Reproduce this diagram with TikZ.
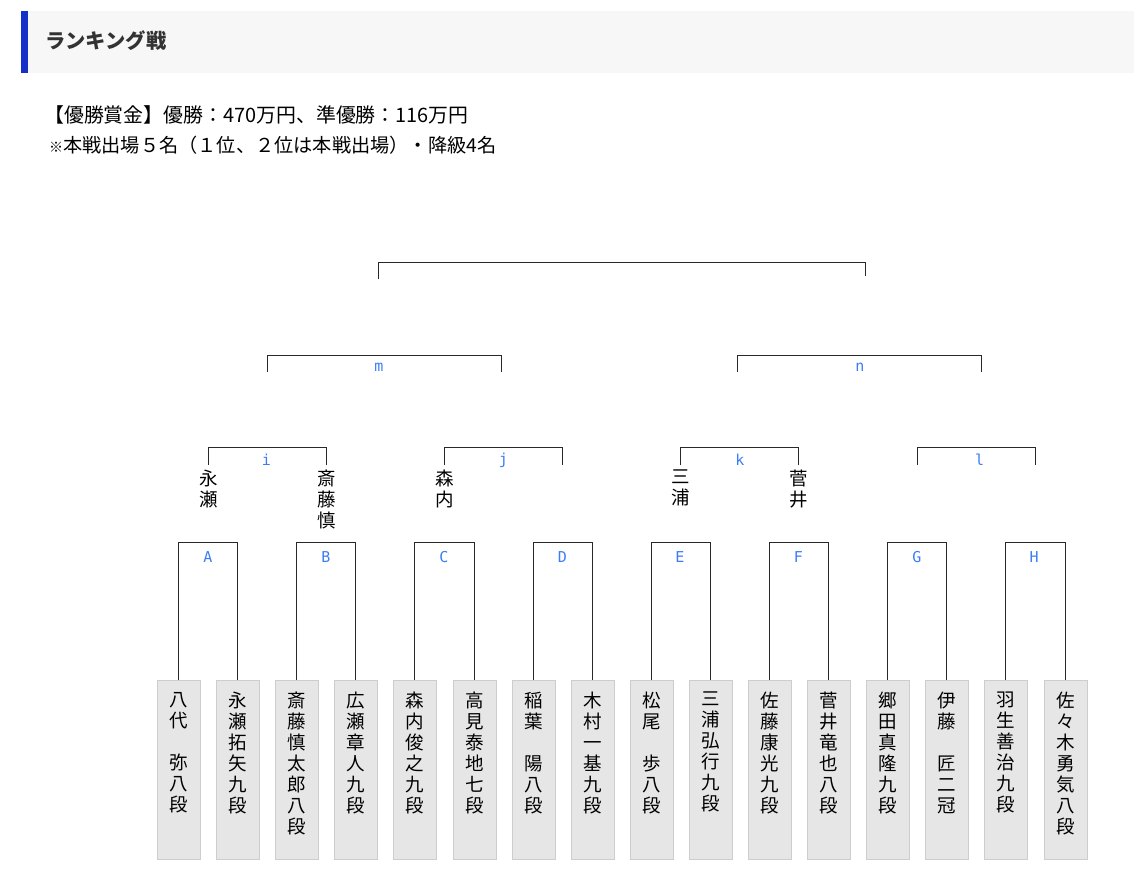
\documentclass[tikz,border=0pt]{standalone}
\usepackage{fontspec}
\setmainfont{Noto Sans CJK JP}
\newfontfamily\jp{Noto Sans CJK JP}
\newfontfamily\mono{DejaVu Sans Mono}
\definecolor{hdrbg}{RGB}{247,247,247}
\definecolor{hdrbar}{RGB}{20,48,200}
\definecolor{titlec}{RGB}{51,51,51}
\definecolor{linec}{RGB}{40,40,40}
\definecolor{lblc}{RGB}{60,125,245}
\definecolor{boxf}{RGB}{230,230,230}
\definecolor{boxd}{RGB}{205,205,205}
\tikzset{
  br/.style={draw=linec, line width=1.8pt},
  lbl/.style={text=lblc, font=\mono\fontsize{15}{15}\selectfont, inner sep=0},
  namebox/.style={draw=boxd, fill=boxf, line width=0.8pt, minimum width=43pt, minimum height=179pt, inner sep=0, anchor=north},
  vname/.style={font=\jp\fontsize{18.5}{21}\selectfont, align=center, inner sep=0, anchor=north, text=black},
  bodytext/.style={font=\jp\fontsize{19.2}{19.2}\selectfont, inner sep=0, anchor=west, text=black},
}
\begin{document}
\begin{tikzpicture}[x=1pt,y=-1pt]
\useasboundingbox (0,0) rectangle (1134,882);
% header
\fill[hdrbg] (21,11) rectangle (1134,72.7);
\fill[hdrbar] (21,11) rectangle (28,72.7);
\node[font=\jp\bfseries\fontsize{20.3}{20.3}\selectfont, text=titlec, anchor=west, inner sep=0] (title) at (45,41) {ランキング戦};
\node[bodytext, font=\jp\fontsize{19.9}{19.9}\selectfont] (prize) at (44,115) {【優勝賞金】優勝：470万円、準優勝：116万円};
\node[bodytext] (note) at (49,145) {{\fontsize{14}{14}\selectfont ※}本戦出場５名（１位、２位は本戦出場）・降級4名};

% name boxes
\node[namebox] (b1)  at (178.5,680) {};
\node[namebox] (b2)  at (237.5,680) {};
\node[namebox] (b3)  at (296.5,680) {};
\node[namebox] (b4)  at (355.5,680) {};
\node[namebox] (b5)  at (414.5,680) {};
\node[namebox] (b6)  at (474.5,680) {};
\node[namebox] (b7)  at (533.5,680) {};
\node[namebox] (b8)  at (592.5,680) {};
\node[namebox] (b9)  at (651.5,680) {};
\node[namebox] (b10) at (710.5,680) {};
\node[namebox] (b11) at (769.5,680) {};
\node[namebox] (b12) at (828.5,680) {};
\node[namebox] (b13) at (887.5,680) {};
\node[namebox] (b14) at (946.5,680) {};
\node[namebox] (b15) at (1005.5,680) {};
\node[namebox] (b16) at (1065.5,680) {};

\node[vname] (t1)  at (178.5,692) {八\\代\\\mbox{}\\弥\\八\\段};
\node[vname] (t2)  at (237.5,692) {永\\瀬\\拓\\矢\\九\\段};
\node[vname] (t3)  at (296.5,692) {斎\\藤\\慎\\太\\郎\\八\\段};
\node[vname] (t4)  at (355.5,692) {広\\瀬\\章\\人\\九\\段};
\node[vname] (t5)  at (414.5,692) {森\\内\\俊\\之\\九\\段};
\node[vname] (t6)  at (474.5,692) {高\\見\\泰\\地\\七\\段};
\node[vname] (t7)  at (533.5,692) {稲\\葉\\\mbox{}\\陽\\八\\段};
\node[vname] (t8)  at (592.5,692) {木\\村\\一\\基\\九\\段};
\node[vname] (t9)  at (651.5,692) {松\\尾\\\mbox{}\\歩\\八\\段};
\node[vname] (t10) at (710.5,692) {三\\浦\\弘\\行\\九\\段};
\node[vname] (t11) at (769.5,692) {佐\\藤\\康\\光\\九\\段};
\node[vname] (t12) at (828.5,692) {菅\\井\\竜\\也\\八\\段};
\node[vname] (t13) at (887.5,692) {郷\\田\\真\\隆\\九\\段};
\node[vname] (t14) at (946.5,692) {伊\\藤\\\mbox{}\\匠\\二\\冠};
\node[vname] (t15) at (1005.5,692) {羽\\生\\善\\治\\九\\段};
\node[vname] (t16) at (1065.5,692) {佐\\々\\木\\勇\\気\\八\\段};

% round 1 brackets
\coordinate (mA) at (208,542.5);
\coordinate (mB) at (326,542.5);
\coordinate (mC) at (444.5,542.5);
\coordinate (mD) at (563,542.5);
\coordinate (mE) at (681,542.5);
\coordinate (mF) at (799,542.5);
\coordinate (mG) at (917,542.5);
\coordinate (mH) at (1035.5,542.5);
\draw[br] (b1.north) |- (mA) -| (b2.north);
\draw[br] (b3.north) |- (mB) -| (b4.north);
\draw[br] (b5.north) |- (mC) -| (b6.north);
\draw[br] (b7.north) |- (mD) -| (b8.north);
\draw[br] (b9.north) |- (mE) -| (b10.north);
\draw[br] (b11.north) |- (mF) -| (b12.north);
\draw[br] (b13.north) |- (mG) -| (b14.north);
\draw[br] (b15.north) |- (mH) -| (b16.north);
\node[lbl] (lA) at (208,557) {A};
\node[lbl] (lB) at (326,557) {B};
\node[lbl] (lC) at (444,557) {C};
\node[lbl] (lD) at (562.5,557) {D};
\node[lbl] (lE) at (680,557) {E};
\node[lbl] (lF) at (798.5,557) {F};
\node[lbl] (lG) at (917,557) {G};
\node[lbl] (lH) at (1034,557) {H};

% round 1 winners
\node[vname] (wA) at (208.5,470) {永\\瀬};
\node[vname] (wB) at (326.5,470) {斎\\藤\\慎};
\node[vname] (wC) at (444.5,470) {森\\内};
\node[vname] (wE) at (680.5,470) {三\\浦};
\node[vname] (wF) at (798.5,470) {菅\\井};

% round 2 brackets
\coordinate (eA) at (208.5,465);
\coordinate (eB) at (326.5,465);
\coordinate (eC) at (444.5,465);
\coordinate (eD) at (562.5,465);
\coordinate (eE) at (680.5,465);
\coordinate (eF) at (798.5,465);
\coordinate (eG) at (917.5,465);
\coordinate (eH) at (1035.5,465);
\coordinate (mi) at (267,447.5);
\coordinate (mj) at (503,447.5);
\coordinate (mk) at (740,447.5);
\coordinate (ml) at (976,447.5);
\draw[br] (eA) |- (mi) -| (eB);
\draw[br] (eC) |- (mj) -| (eD);
\draw[br] (eE) |- (mk) -| (eF);
\draw[br] (eG) |- (ml) -| (eH);
\node[lbl] (li) at (266.5,460) {i};
\node[lbl] (lj) at (503.3,460) {j};
\node[lbl] (lk) at (740,460) {k};
\node[lbl] (ll) at (979.5,460) {l};

% round 3 brackets
\coordinate (ei) at (267.5,371.7);
\coordinate (ej) at (501.5,371.7);
\coordinate (ek) at (737.5,371.7);
\coordinate (el) at (981.5,371.7);
\coordinate (mm) at (384,355.5);
\coordinate (mn) at (859,355.5);
\draw[br] (ei) |- (mm) -| (ej);
\draw[br] (ek) |- (mn) -| (el);
\node[lbl] (lm) at (379,367) {m};
\node[lbl] (ln) at (860,367) {n};

% final bracket
\coordinate (fL) at (378.5,279.3);
\coordinate (fR) at (865.5,276);
\coordinate (ft) at (622,262.5);
\draw[br] (fL) |- (ft) -| (fR);
\end{tikzpicture}
\end{document}
